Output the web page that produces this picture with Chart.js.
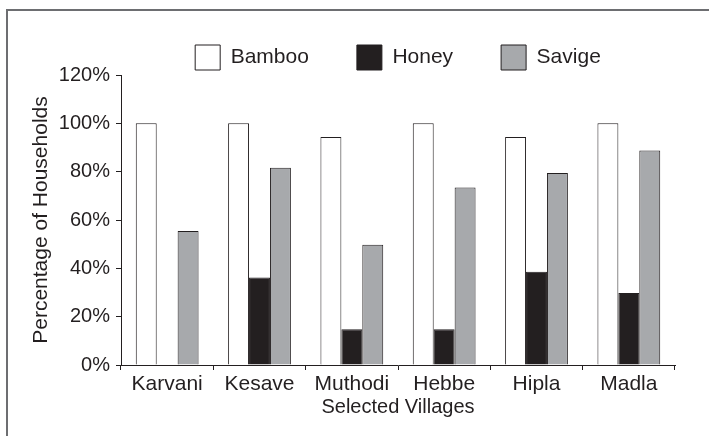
<!DOCTYPE html>
<html>
<head>
<meta charset="utf-8">
<script src="https://cdn.jsdelivr.net/npm/chart.js@4/dist/chart.umd.min.js"></script>
<style>
  body { margin: 0; background: #fff; }
  #wrap { position: relative; width: 709px; height: 436px; overflow: hidden; }
  #frame { position: absolute; left: 6px; top: 9px; width: 760px; height: 480px; border: 2px solid #6d6e71; }
  canvas { position: absolute; left: 0; top: 0; }
</style>
</head>
<body>
<div id="wrap">
  <div id="frame"></div>
  <canvas id="myChart" width="709" height="436"></canvas>
</div>
<script>
const villages = ["Karvani", "Kesave", "Muthodi", "Hebbe", "Hipla", "Madla"]
const bamboo = [100, 100, 94.3, 100, 94.3, 100]
const honey = [0, 36.2, 14.8, 14.8, 38.6, 29.8]
const savige = [55.5, 81.6, 49.8, 73.5, 79.4, 88.8]
const yTicks = [0, 20, 40, 60, 80, 100, 120]

const ink = "#231f20"
const font = "'Liberation Sans', Arial, Helvetica, sans-serif"

// legend sits above the plot, squeeze its box a bit
const legendHeight = {
  id: "legendHeight",
  beforeInit(chart) {
    const fit = chart.legend.fit
    chart.legend.fit = function () {
      fit.call(this)
      this.height = 78
    }
  }
}

new Chart("myChart", {
  type: "bar",
  data: {
    labels: villages,
    datasets: [{
      label: "Bamboo",
      data: bamboo,
      backgroundColor: "#ffffff",
      borderColor: ink,
      borderWidth: 1
    }, {
      label: "Honey",
      data: honey,
      backgroundColor: ink,
      borderColor: ink,
      borderWidth: 1
    }, {
      label: "Savige",
      data: savige,
      backgroundColor: "#a7a9ac",
      borderColor: ink,
      borderWidth: 1
    }]
  },
  options: {
    responsive: false,
    animation: false,
    layout: { padding: { top: -3, right: 34, left: 0, bottom: 0 } },
    datasets: { bar: { categoryPercentage: 0.68, barPercentage: 1 } },
    plugins: {
      tooltip: { enabled: false },
      legend: {
        fullSize: false,
        labels: {
          boxWidth: 25,
          boxHeight: 25,
          padding: 48,
          color: ink,
          font: { family: font, size: 21 }
        }
      }
    },
    scales: {
      x: {
        afterFit(scale) { scale.height = 71 },
        grid: { drawOnChartArea: false, tickLength: 5, color: ink },
        border: { color: ink, width: 1 },
        ticks: { color: ink, padding: 2, font: { family: font, size: 21 } },
        title: {
          display: true,
          text: "Selected Villages",
          color: ink,
          padding: { top: 0, bottom: 17 },
          font: { family: font, size: 20 }
        }
      },
      y: {
        min: 0,
        max: 120,
        afterFit(scale) { scale.width = 121 },
        afterBuildTicks(scale) { scale.ticks = yTicks.map(v => ({ value: v })) },
        grid: { drawOnChartArea: false, tickLength: 5, color: ink },
        border: { color: ink, width: 1 },
        ticks: {
          color: ink,
          padding: 6,
          font: { family: font, size: 20 },
          callback: v => v + "%"
        },
        title: {
          display: true,
          text: "Percentage of Households",
          color: ink,
          padding: { top: 29, bottom: 0 },
          font: { family: font, size: 21 }
        }
      }
    }
  },
  plugins: [legendHeight]
});
</script>
</body>
</html>
